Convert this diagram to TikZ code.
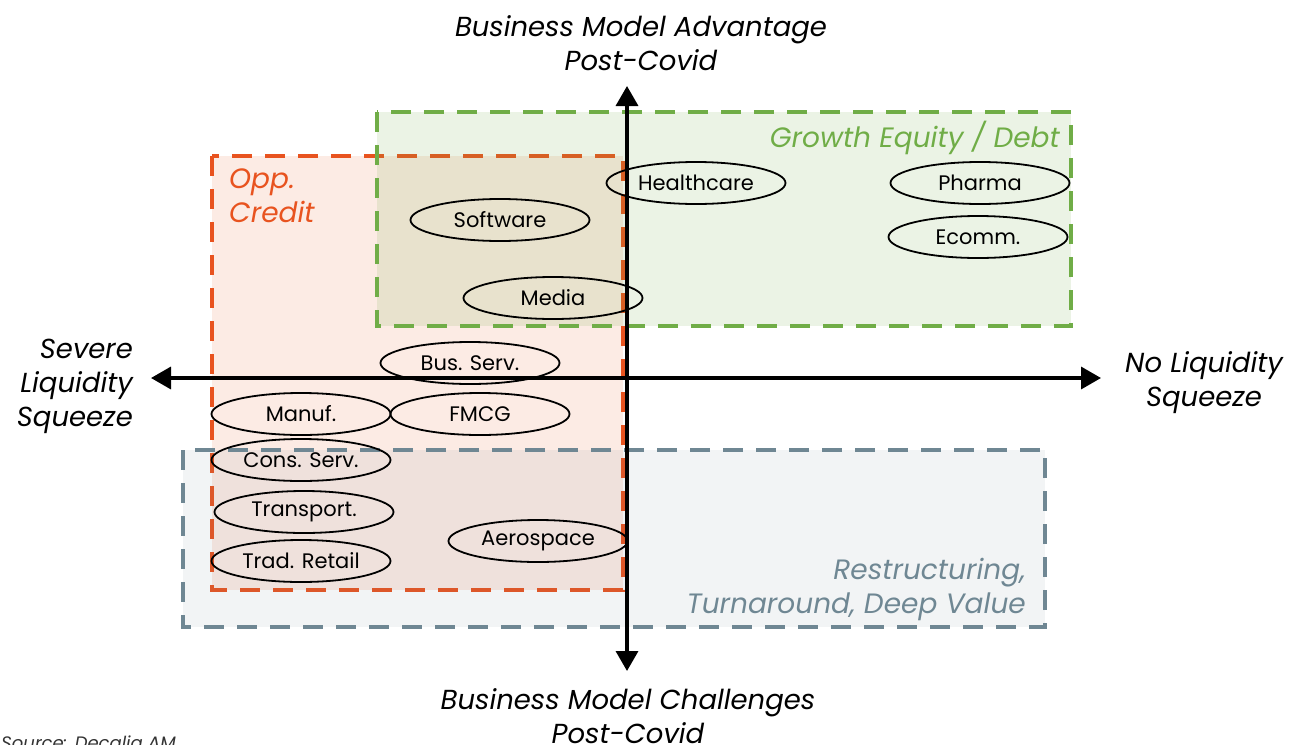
\documentclass[tikz,border=0pt]{standalone}
\usepackage{fontspec}
\setmainfont{Poppins}
\usetikzlibrary{shapes.geometric,arrows.meta}
\definecolor{oppor}{HTML}{E8531F}
\definecolor{grow}{HTML}{70AD47}
\definecolor{restr}{HTML}{6F8793}
\definecolor{oppfill}{HTML}{FCEBE4}
\tikzset{
  zonebox/.style={line width=4pt, dash pattern=on 20pt off 13pt},
  sector/.style={ellipse, draw=black, line width=1.8pt, minimum width=179pt,
    minimum height=42pt, inner sep=0pt, font=\fontsize{21}{24}\selectfont},
  axis/.style={line width=3.5pt, {Triangle[width=22pt,length=20pt]}-{Triangle[width=22pt,length=20pt]}},
  axlabel/.style={font=\fontsize{27.5}{34}\selectfont\itshape, inner sep=0pt},
  zonelabel/.style={font=\fontsize{28}{34}\selectfont\itshape, inner sep=0pt},
}
\begin{document}
\begin{tikzpicture}[x=1pt,y=-1pt]
\useasboundingbox (0,0) rectangle (1311,744);

% investment zones
\draw[zonebox, draw=oppor, fill=oppfill] (212,156) rectangle (623,590);
\draw[zonebox, draw=grow, fill=grow, fill opacity=0.14] (377,112) rectangle (1071,326);
\draw[zonebox, draw=restr, fill=restr, fill opacity=0.09] (183,450) rectangle (1045,627);

\node[zonelabel, text=oppor, align=left, anchor=north west] (opp) at (229,169) {Opp.\\Credit};
\node[zonelabel, text=grow, anchor=east] (gro) at (1060,138) {Growth Equity / Debt};
\node[zonelabel, text=restr, align=right, anchor=east] (res) at (1026,589) {Restructuring,\\Turnaround, Deep Value};

% axes
\coordinate (top) at (627,86);
\coordinate (bot) at (627,671);
\coordinate (lft) at (151,378);
\coordinate (rgt) at (1101,378);
\draw[axis] (bot) -- (top);
\draw[axis] (lft) -- (rgt);

\node[axlabel, align=center] (tl) at (641,43) {Business Model Advantage\\Post-Covid};
\node[axlabel, align=center] (bl) at (628,716) {Business Model Challenges\\Post-Covid};
\node[axlabel, align=right, anchor=east] (ll) at (133,386) {Severe\\Liquidity\\Squeeze};
\node[axlabel, align=center] (rl) at (1204,383) {No Liquidity\\Squeeze};

% sectors
\node[sector] (hc) at (696,183) {Healthcare};
\node[sector] (ph) at (980,183) {Pharma};
\node[sector] (ec) at (978,237) {Ecomm.};
\node[sector] (sw) at (500,220) {Software};
\node[sector] (me) at (553,298) {Media};
\node[sector] (bs) at (470,363) {Bus. Serv.};
\node[sector] (mf) at (301,414) {Manuf.};
\node[sector] (fm) at (480,414) {FMCG};
\node[sector] (cs) at (301,460) {Cons. Serv.};
\node[sector] (tr) at (304,512) {Transport.};
\node[sector] (rt) at (301,561) {Trad. Retail};
\node[sector] (ae) at (538,541) {Aerospace};

% source note
\node[font=\fontsize{18}{20}\selectfont\itshape, text=black!80, anchor=north east, inner sep=0pt] (src) at (176,736) {Source: Decalia AM};
\end{tikzpicture}
\end{document}
